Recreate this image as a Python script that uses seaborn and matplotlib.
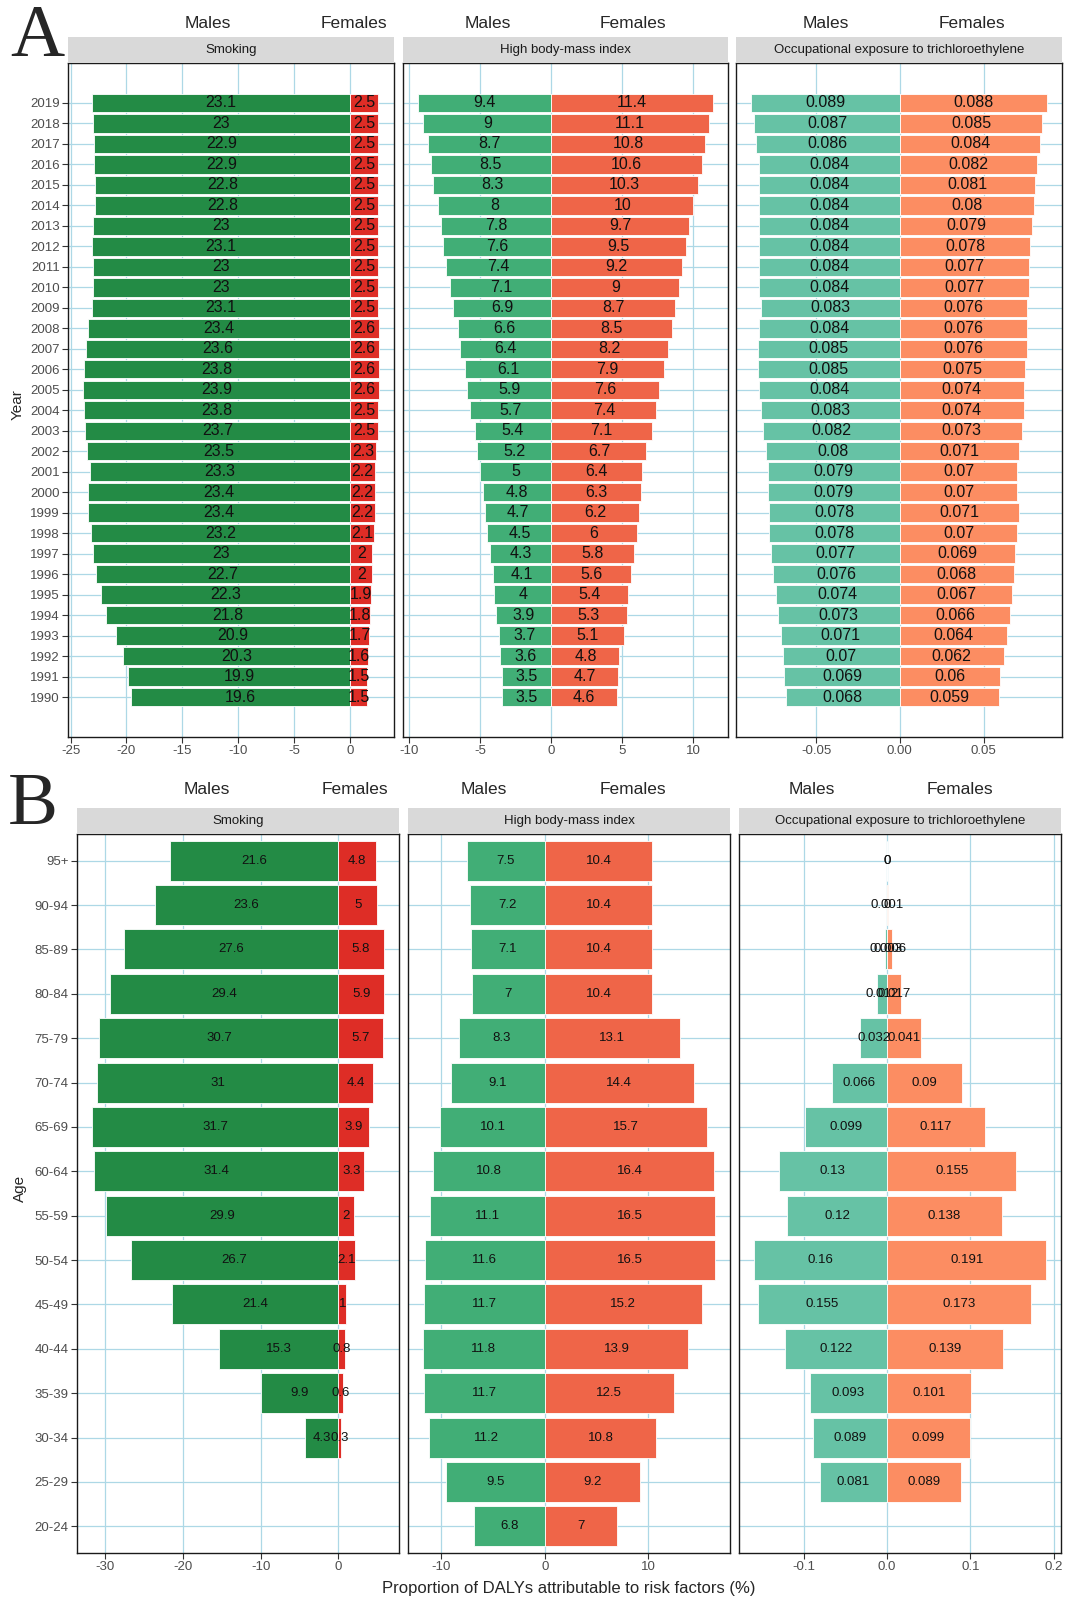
import matplotlib
matplotlib.use("Agg")
import matplotlib.pyplot as plt
import seaborn as sns
import pandas as pd
import numpy as np

sns.set_theme(style="white")
plt.rcParams['font.family'] = ['Liberation Sans', 'DejaVu Sans']
plt.rcParams['axes.unicode_minus'] = False

# ---------------- DATA ----------------
years = list(range(2019, 1989, -1))

smk_m_year = [23.1, 23, 22.9, 22.9, 22.8, 22.8, 23, 23.1, 23, 23, 23.1, 23.4, 23.6, 23.8, 23.9,
              23.8, 23.7, 23.5, 23.3, 23.4, 23.4, 23.2, 23, 22.7, 22.3, 21.8, 20.9, 20.3, 19.9, 19.6]
smk_f_year = [2.5, 2.5, 2.5, 2.5, 2.5, 2.5, 2.5, 2.5, 2.5, 2.5, 2.5, 2.6, 2.6, 2.6, 2.6,
              2.5, 2.5, 2.3, 2.2, 2.2, 2.2, 2.1, 2, 2, 1.9, 1.8, 1.7, 1.6, 1.5, 1.5]
bmi_m_year = [9.4, 9, 8.7, 8.5, 8.3, 8, 7.8, 7.6, 7.4, 7.1, 6.9, 6.6, 6.4, 6.1, 5.9,
              5.7, 5.4, 5.2, 5, 4.8, 4.7, 4.5, 4.3, 4.1, 4, 3.9, 3.7, 3.6, 3.5, 3.5]
bmi_f_year = [11.4, 11.1, 10.8, 10.6, 10.3, 10, 9.7, 9.5, 9.2, 9, 8.7, 8.5, 8.2, 7.9, 7.6,
              7.4, 7.1, 6.7, 6.4, 6.3, 6.2, 6, 5.8, 5.6, 5.4, 5.3, 5.1, 4.8, 4.7, 4.6]
tce_m_year = [0.089, 0.087, 0.086, 0.084, 0.084, 0.084, 0.084, 0.084, 0.084, 0.084, 0.083, 0.084,
              0.085, 0.085, 0.084, 0.083, 0.082, 0.08, 0.079, 0.079, 0.078, 0.078, 0.077, 0.076,
              0.074, 0.073, 0.071, 0.07, 0.069, 0.068]
tce_f_year = [0.088, 0.085, 0.084, 0.082, 0.081, 0.08, 0.079, 0.078, 0.077, 0.077, 0.076, 0.076,
              0.076, 0.075, 0.074, 0.074, 0.073, 0.071, 0.07, 0.07, 0.071, 0.07, 0.069, 0.068,
              0.067, 0.066, 0.064, 0.062, 0.06, 0.059]

ages = ["95+", "90-94", "85-89", "80-84", "75-79", "70-74", "65-69", "60-64",
        "55-59", "50-54", "45-49", "40-44", "35-39", "30-34", "25-29", "20-24"]
nan = np.nan
smk_m_age = [21.6, 23.6, 27.6, 29.4, 30.7, 31, 31.7, 31.4, 29.9, 26.7, 21.4, 15.3, 9.9, 4.3, nan, nan]
smk_f_age = [4.8, 5, 5.8, 5.9, 5.7, 4.4, 3.9, 3.3, 2, 2.1, 1, 0.8, 0.6, 0.3, nan, nan]
bmi_m_age = [7.5, 7.2, 7.1, 7, 8.3, 9.1, 10.1, 10.8, 11.1, 11.6, 11.7, 11.8, 11.7, 11.2, 9.5, 6.8]
bmi_f_age = [10.4, 10.4, 10.4, 10.4, 13.1, 14.4, 15.7, 16.4, 16.5, 16.5, 15.2, 13.9, 12.5, 10.8, 9.2, 7]
tce_m_age = [0, 0, 0.003, 0.012, 0.032, 0.066, 0.099, 0.13, 0.12, 0.16, 0.155, 0.122, 0.093, 0.089, 0.081, nan]
tce_f_age = [0, 0.001, 0.006, 0.017, 0.041, 0.09, 0.117, 0.155, 0.138, 0.191, 0.173, 0.139, 0.101, 0.099, 0.089, nan]

risk_names = ["Smoking", "High body-mass index", "Occupational exposure to trichloroethylene"]
male_colors = ["#238B45", "#41AE76", "#66C2A5"]
female_colors = ["#DE2D26", "#EF6548", "#FC8D62"]

xticks_A = [[-25, -20, -15, -10, -5, 0], [-10, -5, 0, 5, 10], [-0.05, 0.0, 0.05]]
xticklabels_A = [["-25", "-20", "-15", "-10", "-5", "0"], ["-10", "-5", "0", "5", "10"],
                 ["-0.05", "0.00", "0.05"]]
xticks_B = [[-30, -20, -10, 0], [-10, 0, 10], [-0.1, 0.0, 0.1, 0.2]]
xticklabels_B = [["-30", "-20", "-10", "0"], ["-10", "0", "10"], ["-0.1", "0.0", "0.1", "0.2"]]

# ---------------- LAYOUT ----------------
W, H = 1065, 1598
fig = plt.figure(figsize=(W / 100, H / 100), dpi=100)

def ax_px(x0, y0, x1, y1):
    return fig.add_axes([x0 / W, 1 - y1 / H, (x1 - x0) / W, (y1 - y0) / H])

GRID = "#ADD8E6"
DARK = "#1A1A1A"

def fmt(v):
    return f"{v:g}"

def draw_panel(ax, cats, male, female, cm, cf, native, order, ylim, xt, xtl,
               lab_fs, show_y, ytick_labels):
    df_m = pd.DataFrame({"cat": cats, "v": -np.array(male, dtype=float)}).dropna()
    df_f = pd.DataFrame({"cat": cats, "v": np.array(female, dtype=float)}).dropna()
    kw = dict(orient="y", saturation=1, width=0.9, edgecolor="white", linewidth=0.6,
              errorbar=None, ax=ax)
    if native:
        sns.barplot(data=df_m, x="v", y="cat", native_scale=True, color=cm, **kw)
        sns.barplot(data=df_f, x="v", y="cat", native_scale=True, color=cf, **kw)
        ypos = cats
    else:
        sns.barplot(data=df_m, x="v", y="cat", order=order, color=cm, **kw)
        sns.barplot(data=df_f, x="v", y="cat", order=order, color=cf, **kw)
        ypos = list(range(len(cats)))
    # ggplot-like 5% expansion on x
    vals = np.concatenate([-np.array(male, float), np.array(female, float)])
    lo, hi = np.nanmin(vals), np.nanmax(vals)
    lo, hi = min(lo, 0), max(hi, 0)
    r = hi - lo
    ax.set_xlim(lo - 0.05 * r, hi + 0.05 * r)
    ax.set_ylim(*ylim)
    # labels
    for y, m, f in zip(ypos, male, female):
        if not np.isnan(m):
            ax.text(-m / 2, y, fmt(m), ha="center", va="center", fontsize=lab_fs, color="#111111")
        if not np.isnan(f):
            ax.text(f / 2, y, fmt(f), ha="center", va="center", fontsize=lab_fs, color="#111111")
    ax.set_xticks(xt)
    ax.set_xticklabels(xtl)
    ax.set_yticks(ypos)
    if show_y:
        ax.set_yticklabels(ytick_labels)
        ax.tick_params(axis="y", length=4, width=0.8, color="#333333", labelsize=9.5,
                       labelcolor="#4D4D4D", left=True, pad=2)
    else:
        ax.set_yticklabels([])
        ax.tick_params(axis="y", length=0, left=False)
    ax.tick_params(axis="x", length=4, width=0.8, color="#333333", labelsize=9.5,
                   labelcolor="#4D4D4D", bottom=True, pad=2)
    ax.set_xlabel("")
    ax.set_ylabel("")
    ax.set_axisbelow(True)
    ax.grid(True, color=GRID, linewidth=0.9)
    ax.set_facecolor("white")
    for s in ax.spines.values():
        s.set_color(DARK)
        s.set_linewidth(1.0)

def strip(x0, y0, x1, y1, title):
    sa = ax_px(x0, y0, x1, y1)
    sa.set_facecolor("#D9D9D9")
    sa.set_xticks([]); sa.set_yticks([])
    for s in sa.spines.values():
        s.set_visible(False)
    sa.text(0.5, 0.5, title, ha="center", va="center", fontsize=9.5, color="#1A1A1A",
            transform=sa.transAxes)

# Panel A
A_x = [(68, 394), (403, 728), (736, 1062)]
A_y = (63, 737)
A_strip = (37, 63)
A_data = [(smk_m_year, smk_f_year), (bmi_m_year, bmi_f_year), (tce_m_year, tce_f_year)]
A_males = [208, 488, 826]
A_females = [354, 633, 972]
for i in range(3):
    x0, x1 = A_x[i]
    ax = ax_px(x0, A_y[0], x1, A_y[1])
    m, f = A_data[i]
    draw_panel(ax, years, m, f, male_colors[i], female_colors[i], True, None,
               (1988.05, 2020.95), xticks_A[i], xticklabels_A[i], 11.5, i == 0,
               [str(y) for y in years])
    strip(x0, A_strip[0], x1, A_strip[1], risk_names[i])
    fig.text(A_males[i] / W, 1 - 23 / H, "Males", ha="center", va="center", fontsize=12.5)
    fig.text(A_females[i] / W, 1 - 23 / H, "Females", ha="center", va="center", fontsize=12.5)

# Panel B
B_x = [(77, 399), (408, 730), (739, 1061)]
B_y = (834, 1553)
B_strip = (808, 834)
B_data = [(smk_m_age, smk_f_age), (bmi_m_age, bmi_f_age), (tce_m_age, tce_f_age)]
B_males = [207, 484, 812]
B_females = [355, 633, 960]
for i in range(3):
    x0, x1 = B_x[i]
    ax = ax_px(x0, B_y[0], x1, B_y[1])
    m, f = B_data[i]
    draw_panel(ax, ages, m, f, male_colors[i], female_colors[i], False, ages,
               (len(ages) - 1 + 0.6, -0.6), xticks_B[i], xticklabels_B[i], 9.5, i == 0, ages)
    strip(x0, B_strip[0], x1, B_strip[1], risk_names[i])
    fig.text(B_males[i] / W, 1 - 789 / H, "Males", ha="center", va="center", fontsize=12.5)
    fig.text(B_females[i] / W, 1 - 789 / H, "Females", ha="center", va="center", fontsize=12.5)

fig.text(18 / W, 1 - 405 / H, "Year", rotation=90, ha="center", va="center", fontsize=11)
fig.text(20 / W, 1 - 1188 / H, "Age", rotation=90, ha="center", va="center", fontsize=11)
fig.text(569 / W, 1 - 1589 / H, "Proportion of DALYs attributable to risk factors (%)",
         ha="center", va="center", fontsize=12)

fig.text(37 / W, 1 - 38 / H, "A", ha="center", va="center", fontsize=54,
         family=["Liberation Serif", "DejaVu Serif"])
fig.text(33 / W, 1 - 806 / H, "B", ha="center", va="center", fontsize=54,
         family=["Liberation Serif", "DejaVu Serif"])

fig.savefig("out.png", dpi=100, facecolor="white")
